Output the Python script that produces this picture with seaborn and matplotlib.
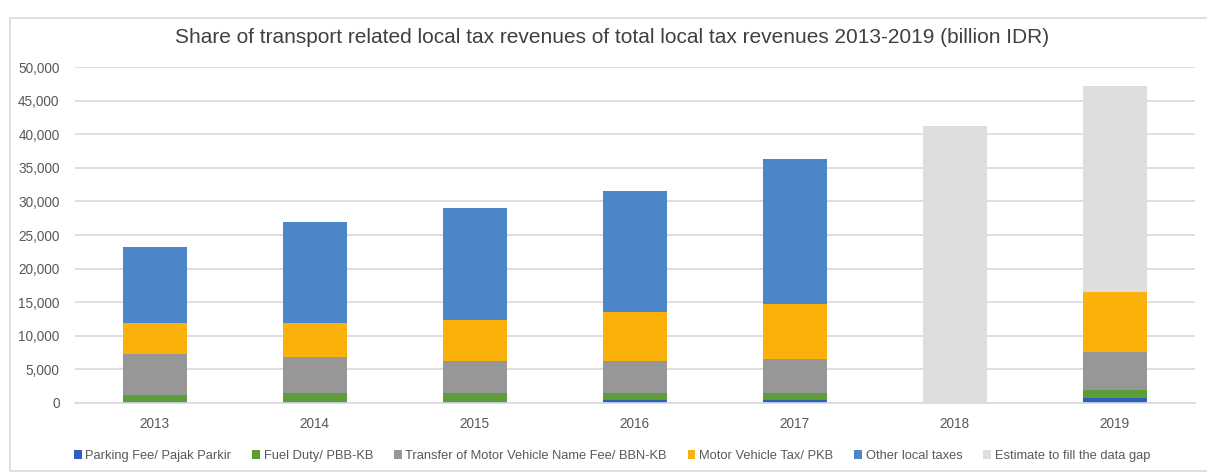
import numpy as np
import pandas as pd
import matplotlib
matplotlib.use("Agg")
import matplotlib.pyplot as plt
from matplotlib.patches import Patch, Rectangle
from matplotlib.ticker import FuncFormatter
import seaborn as sns

# Data (billion IDR)
years = ["2013", "2014", "2015", "2016", "2017", "2018", "2019"]
parking = [150, 150, 150, 400, 400, 0, 750]
fuel = [1000, 1350, 1300, 1050, 1050, 0, 1200]
transfer = [6150, 5400, 4850, 4850, 5100, 0, 5650]
motor_tax = [4600, 5000, 6100, 7200, 8150, 0, 9000]
other = [11300, 15000, 16600, 18000, 21700, 0, 0]
estimate = [0, 0, 0, 0, 0, 41300, 30600]

series_names = [
    "Parking Fee/ Pajak Parkir",
    "Fuel Duty/ PBB-KB",
    "Transfer of Motor Vehicle Name Fee/ BBN-KB",
    "Motor Vehicle Tax/ PKB",
    "Other local taxes",
    "Estimate to fill the data gap",
]
colors = ["#2F5EC0", "#5B9E38", "#979797", "#FBB10B", "#4A86C8", "#DEDEDE"]

sns.set_theme(style="white")
plt.rcParams["font.family"] = ["Liberation Sans", "DejaVu Sans"]

df = pd.DataFrame(
    {
        "year": years,
        series_names[0]: parking,
        series_names[1]: fuel,
        series_names[2]: transfer,
        series_names[3]: motor_tax,
        series_names[4]: other,
        series_names[5]: estimate,
    }
)
cum = df[series_names].cumsum(axis=1)
cum["year"] = df["year"]

fig = plt.figure(figsize=(12.07, 4.73), dpi=100)
ax = fig.add_axes([0.062, 0.148, 0.928, 0.71])

# stacked look: draw cumulative totals from the top series down
for name, c in reversed(list(zip(series_names, colors))):
    sns.barplot(data=cum, x="year", y=name, color=c, width=0.4,
                saturation=1, ax=ax, linewidth=0)

ax.set_ylim(0, 50000)
ax.set_yticks(np.arange(0, 50001, 5000))
ax.yaxis.set_major_formatter(FuncFormatter(lambda v, p: f"{int(v):,}"))
ax.grid(axis="y", color="#D9D9D9", linewidth=1.2)
ax.set_axisbelow(True)
for s in ["top", "right", "left"]:
    ax.spines[s].set_visible(False)
ax.spines["bottom"].set_color("#D9D9D9")
ax.spines["bottom"].set_linewidth(1.2)
ax.set_xlabel("")
ax.set_ylabel("")
ax.tick_params(axis="y", length=0, labelsize=9.8, colors="#595959", pad=11)
ax.tick_params(axis="x", length=0, labelsize=9.8, colors="#595959", pad=10)
ax.set_xlim(-0.5, 6.5)

fig.text(0.507, 0.92, "Share of transport related local tax revenues of total local tax revenues 2013-2019 (billion IDR)",
         ha="center", va="center", fontsize=15, color="#404040")

handles = [Patch(facecolor=c, edgecolor="none", label=n) for n, c in zip(series_names, colors)]
fig.legend(handles=handles, loc="center", bbox_to_anchor=(0.507, 0.036), ncol=6, frameon=False,
           fontsize=9.3, handlelength=0.6, handleheight=0.6, handletextpad=0.3, columnspacing=1.6,
           labelcolor="#595959")

# chart border
fig.patches.append(Rectangle((0.008, 0.005), 1.0, 0.957, transform=fig.transFigure,
                             fill=False, edgecolor="#D9D9D9", linewidth=1.2))

fig.savefig("out.png", dpi=100)
